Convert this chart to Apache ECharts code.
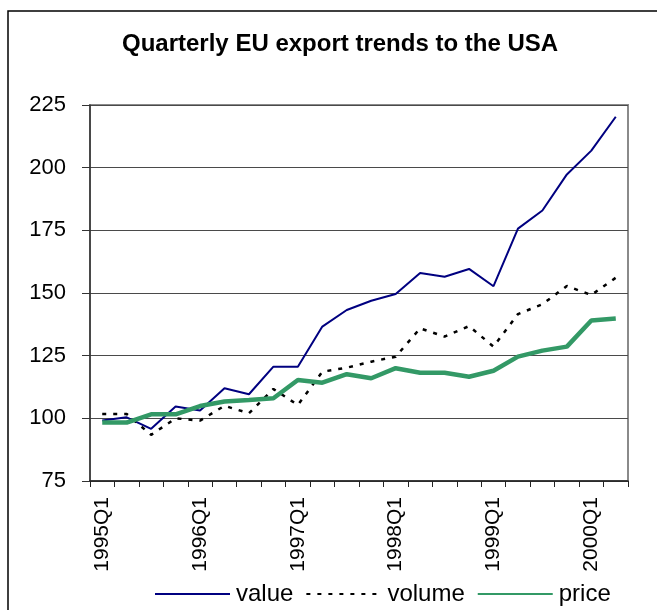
<!DOCTYPE html>
<html>
<head>
<meta charset="utf-8">
<title>Quarterly EU export trends to the USA</title>
<script src="https://cdn.jsdelivr.net/npm/echarts@6/dist/echarts.min.js"></script>
<style>
  html, body { margin: 0; padding: 0; background: #fff; }
  #chart { width: 657px; height: 610px; }
</style>
</head>
<body>
<div id="chart"></div>
<script>
// quarters 1995Q1 .. 2000Q2
const quarters = [
  "1995Q1", "1995Q2", "1995Q3", "1995Q4",
  "1996Q1", "1996Q2", "1996Q3", "1996Q4",
  "1997Q1", "1997Q2", "1997Q3", "1997Q4",
  "1998Q1", "1998Q2", "1998Q3", "1998Q4",
  "1999Q1", "1999Q2", "1999Q3", "1999Q4",
  "2000Q1", "2000Q2"
];

const valueData = [
  99.1, 100.4, 95.8, 104.7, 103.1, 112.0, 109.6, 120.6,
  120.6, 136.6, 143.2, 146.9, 149.6, 158.0, 156.5, 159.6,
  152.7, 175.7, 182.9, 197.3, 206.8, 220.3
];

const volumeData = [
  101.7, 101.7, 93.4, 100.0, 99.1, 105.0, 102.0, 111.7,
  105.3, 118.6, 120.2, 122.6, 124.6, 135.9, 132.6, 136.8,
  128.6, 141.6, 145.5, 152.8, 149.2, 156.1
];

const priceData = [
  98.3, 98.3, 101.6, 101.6, 104.9, 106.7, 107.3, 108.0,
  115.3, 114.2, 117.6, 116.0, 120.0, 118.2, 118.2, 116.6,
  119.0, 124.6, 127.0, 128.6, 139.0, 139.8
];

const yTicks = [75, 100, 125, 150, 175, 200, 225];

const font = "'Liberation Sans', Arial, sans-serif";
const chart = echarts.init(document.getElementById("chart"));

chart.setOption({
  animation: false,
  backgroundColor: "#fff",
  textStyle: { fontFamily: font, color: "#000" },
  title: {
    text: "Quarterly EU export trends to the USA",
    left: 122,
    top: 32,
    padding: 0,
    textStyle: { fontFamily: font, fontSize: 24, fontWeight: "bold", color: "#000" }
  },
  graphic: [
    {
      type: "rect",
      shape: { x: 8, y: 11, width: 700, height: 700 },
      style: { fill: null, stroke: "#000", lineWidth: 1.5 },
      silent: true
    }
  ],
  grid: {
    left: 90,
    right: 29,
    top: 105,
    bottom: 129,
    show: true,
    borderColor: "#8a8a8a",
    borderWidth: 2,
    backgroundColor: "transparent"
  },
  legend: {
    left: 154,
    top: 582,
    itemWidth: 75,
    itemHeight: 14,
    itemGap: 12,
    padding: 0,
    itemStyle: { opacity: 0 },
    textStyle: { fontFamily: font, fontSize: 24, color: "#000", padding: [0, 0, 0, 1] },
    data: ["value", "volume", "price"]
  },
  xAxis: {
    type: "category",
    data: quarters,
    boundaryGap: true,
    axisLine: { lineStyle: { color: "#222", width: 1.5 } },
    axisTick: { show: true, interval: 0, length: 6, lineStyle: { color: "#222", width: 1 } },
    axisLabel: {
      interval: 3,
      rotate: 90,
      margin: 16,
      fontFamily: font,
      fontSize: 21,
      color: "#000"
    },
    splitLine: { show: false }
  },
  yAxis: {
    type: "value",
    min: yTicks[0],
    max: yTicks[yTicks.length - 1],
    interval: 25,
    axisLine: { show: true, lineStyle: { color: "#333", width: 1.5 } },
    axisTick: { show: true, length: 8, inside: false, lineStyle: { color: "#333", width: 1 } },
    axisLabel: {
      margin: 24,
      fontFamily: font,
      fontSize: 22,
      color: "#000"
    },
    splitLine: { show: true, lineStyle: { color: "#4a4a4a", width: 1.2 } }
  },
  series: [
    {
      name: "value",
      type: "line",
      data: valueData,
      symbol: "none",
      lineStyle: { color: "#000080", width: 2 },
      itemStyle: { color: "#000080" },
      z: 2
    },
    {
      name: "volume",
      type: "line",
      data: volumeData,
      symbol: "none",
      lineStyle: { color: "#000", width: 2.5, type: [4, 7] },
      itemStyle: { color: "#000" },
      z: 3
    },
    {
      name: "price",
      type: "line",
      data: priceData,
      symbol: "none",
      lineStyle: { color: "#339966", width: 4.5 },
      itemStyle: { color: "#339966" },
      z: 4
    }
  ]
});
</script>
</body>
</html>
